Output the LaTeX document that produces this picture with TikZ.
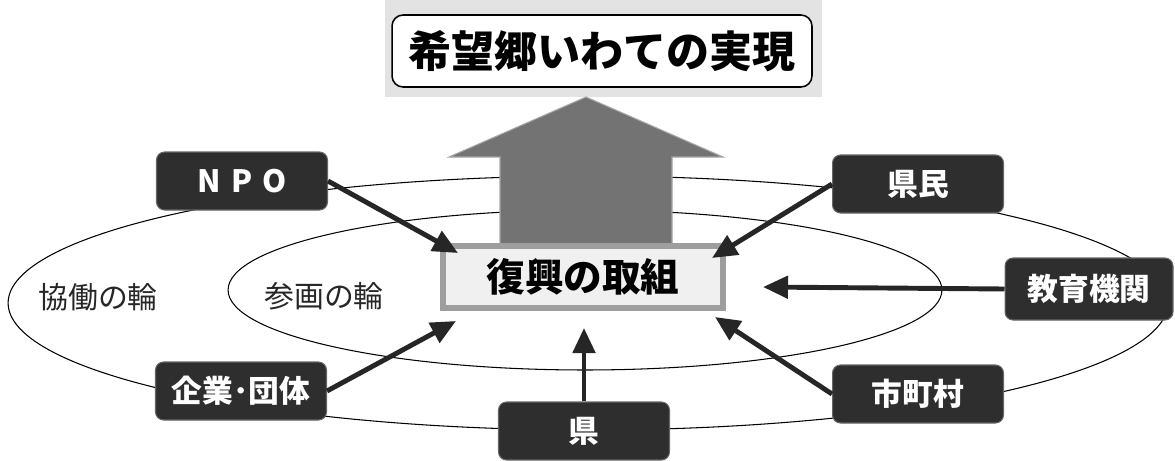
\documentclass[tikz,border=0pt]{standalone}
\usepackage{fontspec}
\newfontfamily\cjk{Noto Sans CJK JP}
\usetikzlibrary{arrows.meta}
\begin{document}
\begin{tikzpicture}[x=0.02cm,y=-0.02cm,
  darkbox/.style={rounded corners=0.16cm, fill=black!82, draw=black!60, line width=0.6pt,
    text=white, font=\cjk\bfseries\fontsize{17.5}{20}\selectfont,
    minimum width=3.42cm, minimum height=1.16cm, inner sep=0pt},
  ring/.style={draw=black, line width=0.6pt},
  ringlabel/.style={font=\cjk\fontsize{17}{20}\selectfont, text=black!85},
  arr/.style={draw=black!85, line width=2.8pt,
    -{Triangle[length=0.5cm, width=0.44cm]}}]
\useasboundingbox (0,0) rectangle (1175,460);
% rings
\draw[ring] (588,303) ellipse [x radius=11.6cm, y radius=2.54cm];
\draw[ring] (585,290) ellipse [x radius=7.14cm, y radius=1.6cm];
\node[ringlabel] (kyodo) at (98,297) {協働の輪};
\node[ringlabel] (sankaku) at (324,296) {参画の輪};
% title
\fill[black!11] (385,0) rectangle (822,97);
\node[rounded corners=0.22cm, fill=white, draw=black, line width=0.9pt,
  minimum width=8.4cm, minimum height=1.44cm, inner sep=0pt,
  font=\cjk\bfseries\fontsize{24.5}{28}\selectfont] (title) at (602,51) {希望郷いわての実現};
% big arrow
\path[fill=black!55, draw=black!35, line width=0.6pt]
  (586,97) -- (723,157) -- (672,157) -- (672,245) -- (500,245) -- (500,157) -- (449,157) -- cycle;
% centre box
\node[fill=black!6, draw=black!38, line width=3.5pt,
  minimum width=5.6cm, minimum height=1.24cm, inner sep=0pt,
  font=\cjk\bfseries\fontsize{22}{26}\selectfont] (core) at (583,277) {復興の取組};
% actor boxes
\node[darkbox] (npo) at (242,181) {N\,\,P\,\,O};
\node[darkbox] (kigyo) at (241,391) {企業･団体};
\node[darkbox] (kenmin) at (918,184) {県民};
\node[darkbox, minimum width=3.36cm, minimum height=1.24cm] (kyoiku) at (1089,289) {教育機関};
\node[darkbox] (shicho) at (918,394) {市町村};
\node[darkbox] (ken) at (584,431) {県};
% arrow targets
\coordinate (tnpo) at (458,253);
\coordinate (tkigyo) at (456,321);
\coordinate (tkenmin) at (712,258);
\coordinate (tkyoiku) at (763,287);
\coordinate (tshicho) at (715,317);
\coordinate (tken) at (584,328);
\draw[arr] (npo.east) -- (tnpo);
\draw[arr] (kigyo.east) -- (tkigyo);
\draw[arr] (kenmin.west) -- (tkenmin);
\draw[arr] (kyoiku.west) -- (tkyoiku);
\draw[arr] (shicho.west) -- (tshicho);
\draw[arr] (ken.north) -- (tken);
\end{tikzpicture}
\end{document}
